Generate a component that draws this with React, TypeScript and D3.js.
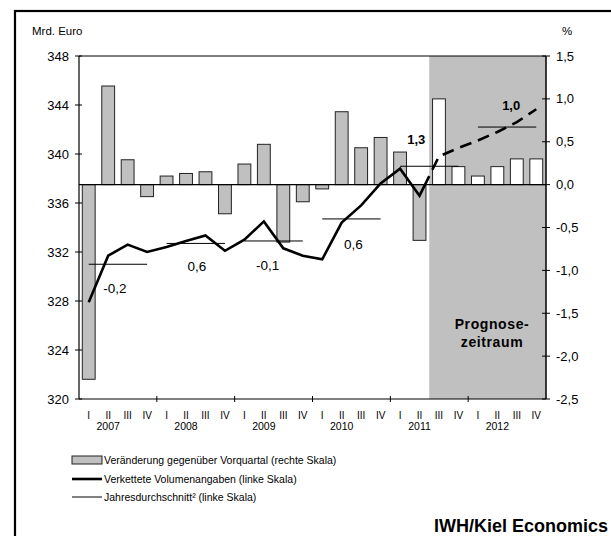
import React from "react";
import * as d3 from "d3";

// quarterly data 2007 I – 2012 IV (from 2011 III on: forecast)
const years = ["2007", "2008", "2009", "2010", "2011", "2012"];
const quarterNames = ["I", "II", "III", "IV"];
// change vs previous quarter, % (right scale)
const changeValues = [
  -2.27, 1.15, 0.29, -0.14, 0.1, 0.13, 0.15, -0.34, 0.24, 0.47, -0.67, -0.2,
  -0.05, 0.85, 0.43, 0.55, 0.38, -0.65, 1.0, 0.21, 0.1, 0.21, 0.3, 0.3,
];
// chained volumes, bn euro (left scale)
const volumeValues = [
  327.9, 331.7, 332.6, 332.0, 332.4, 332.9, 333.35, 332.1, 333.0, 334.5, 332.3, 331.7,
  331.4, 334.4, 335.8, 337.6, 338.8, 336.6, 339.8, 340.5, 341.1, 341.8, 342.6, 343.65,
];
// annual averages (left scale) and annual growth labels
const annualAverages = [331.0, 332.7, 332.9, 334.7, 339.0, 342.2];
const annualLabels = ["-0,2", "0,6", "-0,1", "0,6", "1,3", "1,0"];
const leftTicks = [320, 324, 328, 332, 336, 340, 344, 348];
const rightTicks = [-2.5, -2.0, -1.5, -1.0, -0.5, 0.0, 0.5, 1.0, 1.5];
const forecastStart = 18; // 2011 III
const legendItems = [
  "Veränderung gegenüber Vorquartal (rechte Skala)",
  "Verkettete Volumenangaben (linke Skala)",
  "Jahresdurchschnitt² (linke Skala)",
];

// label placement relative to year start / average line (layout only)
const labelDx = [36, 40, 33, 41, 26, 43];
const labelDy = [24, 23, 25, 26, -27, -22];

const FONT = "Arial, 'Liberation Sans', sans-serif";
const GRAY = "#c0c0c0";

export default function App() {
  const left = 79, right = 546, top = 56, bottom = 399;
  const n = volumeValues.length;
  const x = d3.scaleBand<number>().domain(d3.range(n)).range([left, right]);
  const bw = x.bandwidth();
  const cx = (i: number) => (x(i) as number) + bw / 2;
  const yL = d3.scaleLinear().domain([320, 348]).range([bottom, top]);
  const yR = d3.scaleLinear().domain([-2.5, 1.5]).range([bottom, top]);
  const barW = bw * 0.66;
  const fx = x(forecastStart) as number;

  // solid line up to forecast boundary, dashed afterwards
  const split = (volumeValues[forecastStart - 1] + volumeValues[forecastStart]) / 2;
  const solidPts: [number, number][] = volumeValues
    .slice(0, forecastStart)
    .map((v, i) => [cx(i), yL(v)]);
  solidPts.push([fx, yL(split)]);
  const dashPts: [number, number][] = [[fx, yL(split)]];
  volumeValues.slice(forecastStart).forEach((v, k) => dashPts.push([cx(forecastStart + k), yL(v)]));
  const line = d3.line();

  return (
    <div style={{ position: "absolute", left: 0, top: 0 }}>
      <svg width={611} height={536} style={{ display: "block", fontFamily: FONT }}>
        <rect x={0} y={0} width={611} height={536} fill="#fff" />
        <rect x={15} y={11} width={700} height={700} fill="none" stroke="#000" strokeWidth={2.2} />

        {/* forecast period */}
        <rect x={fx} y={top} width={right - fx} height={bottom - top} fill={GRAY} />

        {/* bars */}
        {changeValues.map((v, i) => (
          <rect
            key={i}
            x={cx(i) - barW / 2}
            y={yR(Math.max(0, v))}
            width={barW}
            height={Math.abs(yR(v) - yR(0))}
            fill={i >= forecastStart ? "#fff" : GRAY}
            stroke="#222"
            strokeWidth={1}
          />
        ))}

        {/* zero line and frame */}
        <line x1={left} x2={right} y1={yR(0)} y2={yR(0)} stroke="#000" strokeWidth={1.2} />
        <line x1={left} x2={right} y1={top} y2={top} stroke="#000" strokeWidth={1} />
        <line x1={left} x2={left} y1={top} y2={bottom} stroke="#000" strokeWidth={1.2} />
        <line x1={right} x2={right} y1={top} y2={bottom} stroke="#000" strokeWidth={1.5} />
        <line x1={left} x2={right} y1={bottom} y2={bottom} stroke="#000" strokeWidth={1.2} />

        {/* annual averages */}
        {annualAverages.map((v, k) => (
          <line
            key={k}
            x1={cx(k * 4)}
            x2={cx(k * 4 + 3)}
            y1={yL(v)}
            y2={yL(v)}
            stroke="#000"
            strokeWidth={1}
          />
        ))}

        {/* volume line */}
        <path d={line(solidPts) || ""} fill="none" stroke="#000" strokeWidth={2.6} strokeLinejoin="miter" />
        <path
          d={line(dashPts) || ""}
          fill="none"
          stroke="#000"
          strokeWidth={2.6}
          strokeDasharray="12,7"
          strokeDashoffset={12}
        />

        {/* annual labels */}
        {annualLabels.map((t, k) => {
          const bold = k * 4 >= forecastStart - 2;
          return (
            <text
              key={k}
              x={(x(k * 4) as number) + labelDx[k]}
              y={yL(annualAverages[k]) + labelDy[k]}
              textAnchor="middle"
              dominantBaseline="central"
              fontSize={bold ? 13 : 13.5}
              fontWeight={bold ? "bold" : "normal"}
            >
              {t}
            </text>
          );
        })}

        {/* left axis */}
        {leftTicks.map((t) => (
          <g key={t}>
            <line x1={left - 4} x2={left + 3} y1={yL(t)} y2={yL(t)} stroke="#000" />
            <text x={69} y={yL(t)} textAnchor="end" dominantBaseline="central" fontSize={13}>
              {t}
            </text>
          </g>
        ))}
        {/* right axis */}
        {rightTicks.map((t) => (
          <g key={t}>
            <line x1={right - 4} x2={right + 4} y1={yR(t)} y2={yR(t)} stroke="#000" />
            <text x={556} y={yR(t)} dominantBaseline="central" fontSize={13}>
              {d3.format(".1f")(t).replace(".", ",").replace("−", "-")}
            </text>
          </g>
        ))}
        {/* year separators */}
        {years.slice(1).map((_, k) => (
          <line
            key={k}
            x1={x((k + 1) * 4) as number}
            x2={x((k + 1) * 4) as number}
            y1={bottom - 3}
            y2={bottom + 3}
            stroke="#000"
          />
        ))}
        {/* quarter + year labels */}
        {volumeValues.map((_, i) => (
          <text key={i} x={cx(i)} y={419} textAnchor="middle" fontSize={10}>
            {quarterNames[i % 4]}
          </text>
        ))}
        {years.map((yr, k) => (
          <text key={yr} x={cx(k * 4 + 1)} y={430} textAnchor="middle" fontSize={10.5}>
            {yr}
          </text>
        ))}

        <text x={32} y={35} fontSize={11.5}>
          Mrd. Euro
        </text>
        <text x={567} y={35} textAnchor="middle" fontSize={11.5}>
          %
        </text>

        <text x={492} y={329} textAnchor="middle" fontSize={14} fontWeight="bold" letterSpacing={0.6}>
          Prognose-
        </text>
        <text x={492} y={347} textAnchor="middle" fontSize={14} fontWeight="bold" letterSpacing={0.6}>
          zeitraum
        </text>

        {/* legend */}
        <rect x={72} y={456} width={30} height={8} fill={GRAY} stroke="#222" strokeWidth={1} />
        <line x1={72} x2={102} y1={479} y2={479} stroke="#000" strokeWidth={2.6} />
        <line x1={72} x2={102} y1={497} y2={497} stroke="#000" strokeWidth={1} />
        {legendItems.map((t, k) => (
          <text key={k} x={104} y={[460, 479, 497][k]} dominantBaseline="central" fontSize={10.5}>
            {t}
          </text>
        ))}

        <text x={608} y={532} textAnchor="end" fontSize={18} fontWeight="bold">
          IWH/Kiel Economics
        </text>
      </svg>
    </div>
  );
}
